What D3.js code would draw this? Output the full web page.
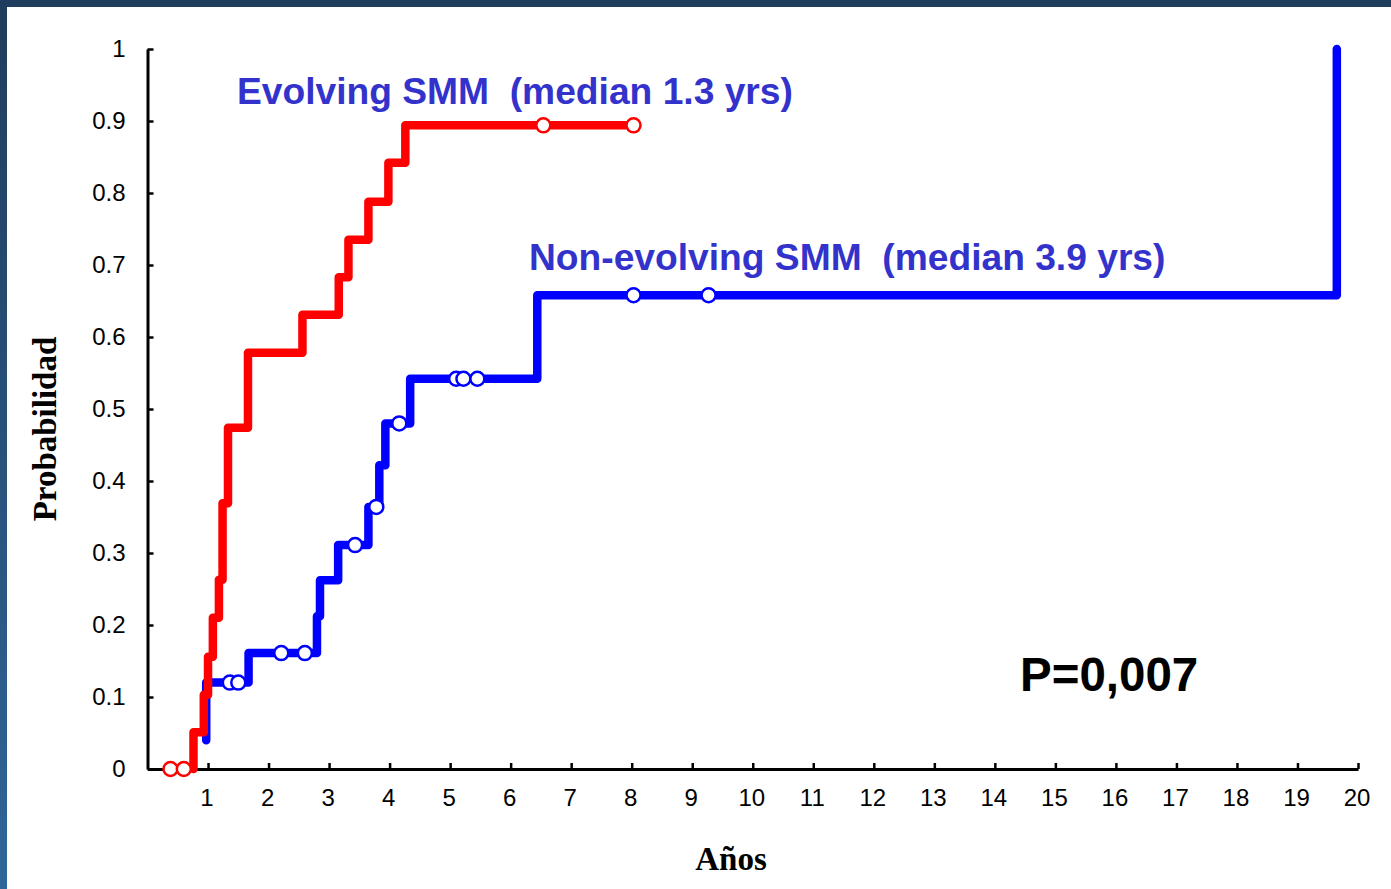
<!DOCTYPE html>
<html>
<head>
<meta charset="utf-8">
<script src="https://cdn.jsdelivr.net/npm/d3@7"></script>
<style>
	body { margin: 0; background: #fff; }
	svg { display: block; }
</style>
</head>
<body>
<svg id="km-plot" width="1391" height="889"></svg>
<script>

// Evolving SMM (red) - step times and survival-to-progression values
const RED_TIMES = [0.76, 0.76, 0.93, 1.0, 1.08, 1.18, 1.24, 1.33, 1.66, 2.56, 3.16, 3.32, 3.65, 3.98, 4.26, 8.03];
const RED_VALUES = [0, 0.051, 0.103, 0.156, 0.21, 0.263, 0.369, 0.474, 0.578, 0.631, 0.683, 0.735, 0.788, 0.842, 0.894, 0.894];
const RED_CENSOR_T = [0.38, 0.6, 6.54, 8.03];
const RED_CENSOR_V = [0, 0, 0.894, 0.894];

// Non-evolving SMM (blue)
const BLUE_TIMES = [0.97, 0.97, 1.67, 2.8, 2.85, 3.15, 3.65, 3.83, 3.93, 4.34, 6.44, 19.65];
const BLUE_VALUES = [0.04, 0.12, 0.161, 0.212, 0.262, 0.311, 0.364, 0.422, 0.48, 0.542, 0.658, 1.0];
const BLUE_CENSOR_T = [1.36, 1.5, 2.21, 2.6, 3.43, 3.78, 4.16, 5.1, 5.22, 5.45, 8.03, 9.27];
const BLUE_CENSOR_V = [0.12, 0.12, 0.161, 0.161, 0.311, 0.364, 0.48, 0.542, 0.542, 0.542, 0.658, 0.658];

const X_TICKS = d3.range(1, 21);
const Y_TICKS = [0, 0.1, 0.2, 0.3, 0.4, 0.5, 0.6, 0.7, 0.8, 0.9, 1];

const svg = d3.select('#km-plot');

// slide frame: dark band on top, gradient band on the left
const defs = svg.append('defs');
const grad = defs.append('linearGradient')
	.attr('id', 'left-band')
	.attr('x1', 0).attr('y1', 0).attr('x2', 0).attr('y2', 1);
grad.append('stop').attr('offset', '0%').attr('stop-color', '#1f3d5c');
grad.append('stop').attr('offset', '100%').attr('stop-color', '#2f6699');

svg.append('rect').attr('x', 0).attr('y', 0).attr('width', 7).attr('height', 889).attr('fill', 'url(#left-band)');
svg.append('rect').attr('x', 0).attr('y', 0).attr('width', 1391).attr('height', 7).attr('fill', '#1f3d5c');

const x = d3.scaleLinear().domain([0, 20]).range([147.5, 1358]);
const y = d3.scaleLinear().domain([0, 1]).range([769, 49]);

// axes
const x_axis = d3.axisBottom(x)
	.tickValues(X_TICKS)
	.tickSizeInner(-6)
	.tickSizeOuter(0)
	.tickPadding(15);

const y_axis = d3.axisLeft(y)
	.tickValues(Y_TICKS)
	.tickFormat(d => d === 0 ? '0' : d === 1 ? '1' : d3.format('.1f')(d))
	.tickSizeInner(-6)
	.tickSizeOuter(0)
	.tickPadding(22);

const gx = svg.append('g')
	.attr('transform', `translate(0,${y(0)})`)
	.call(x_axis);

const gy = svg.append('g')
	.attr('transform', `translate(${x(0)},0)`)
	.call(y_axis);

[gx, gy].forEach(g => {
	g.select('.domain').attr('stroke', '#000').attr('stroke-width', 3);
	g.selectAll('.tick line').attr('stroke', '#000').attr('stroke-width', 2.5);
	g.selectAll('.tick text')
		.attr('fill', '#000')
		.style('font-family', '"Liberation Sans", Arial, sans-serif')
		.style('font-size', '24px');
});
gx.selectAll('.tick text').attr('dy', '0.71em').attr('y', 20).attr('dx', -1.5);

// axis titles
svg.append('text')
	.attr('x', 731)
	.attr('y', 870)
	.attr('text-anchor', 'middle')
	.style('font-family', '"Liberation Serif", "Times New Roman", serif')
	.style('font-weight', 'bold')
	.style('font-size', '33px')
	.text('Años');

svg.append('text')
	.attr('transform', 'translate(56,429) rotate(-90)')
	.attr('text-anchor', 'middle')
	.style('font-family', '"Liberation Serif", "Times New Roman", serif')
	.style('font-weight', 'bold')
	.style('font-size', '33px')
	.text('Probabilidad');

// step curves
const step_line = d3.line()
	.x(d => x(d[0]))
	.y(d => y(d[1]))
	.curve(d3.curveStepAfter);

const red_points = RED_TIMES.map((t, i) => [t, RED_VALUES[i]]);
const blue_points = BLUE_TIMES.map((t, i) => [t, BLUE_VALUES[i]]);

const curves = [
	{points: blue_points, color: '#0000ff', ct: BLUE_CENSOR_T, cv: BLUE_CENSOR_V},
	{points: red_points, color: '#ff0000', ct: RED_CENSOR_T, cv: RED_CENSOR_V}
];

curves.forEach(c => {
	svg.append('path')
		.datum(c.points)
		.attr('d', step_line)
		.attr('fill', 'none')
		.attr('stroke', c.color)
		.attr('stroke-width', 8.5)
		.attr('stroke-linejoin', 'round')
		.attr('stroke-linecap', 'round');

	svg.append('g')
		.selectAll('circle')
		.data(c.ct.map((t, i) => [t, c.cv[i]]))
		.enter()
		.append('circle')
			.attr('cx', d => x(d[0]))
			.attr('cy', d => y(d[1]))
			.attr('r', 7)
			.attr('fill', '#fff')
			.attr('stroke', c.color)
			.attr('stroke-width', 2.5);
});

// labels
const label_font = '"Liberation Sans", Arial, sans-serif';
svg.append('text')
	.attr('x', 237)
	.attr('y', 104)
	.style('font-family', label_font)
	.style('font-weight', 'bold')
	.style('font-size', '37.2px')
	.style('white-space', 'pre')
	.attr('fill', '#3333cc')
	.text('Evolving SMM  (median 1.3 yrs)');

svg.append('text')
	.attr('x', 529)
	.attr('y', 270)
	.style('font-family', label_font)
	.style('font-weight', 'bold')
	.style('font-size', '37.2px')
	.style('white-space', 'pre')
	.attr('fill', '#3333cc')
	.text('Non-evolving SMM  (median 3.9 yrs)');

svg.append('text')
	.attr('x', 1020)
	.attr('y', 691)
	.style('font-family', label_font)
	.style('font-weight', 'bold')
	.style('font-size', '47.5px')
	.attr('fill', '#000')
	.text('P=0,007');

</script>
</body>
</html>
